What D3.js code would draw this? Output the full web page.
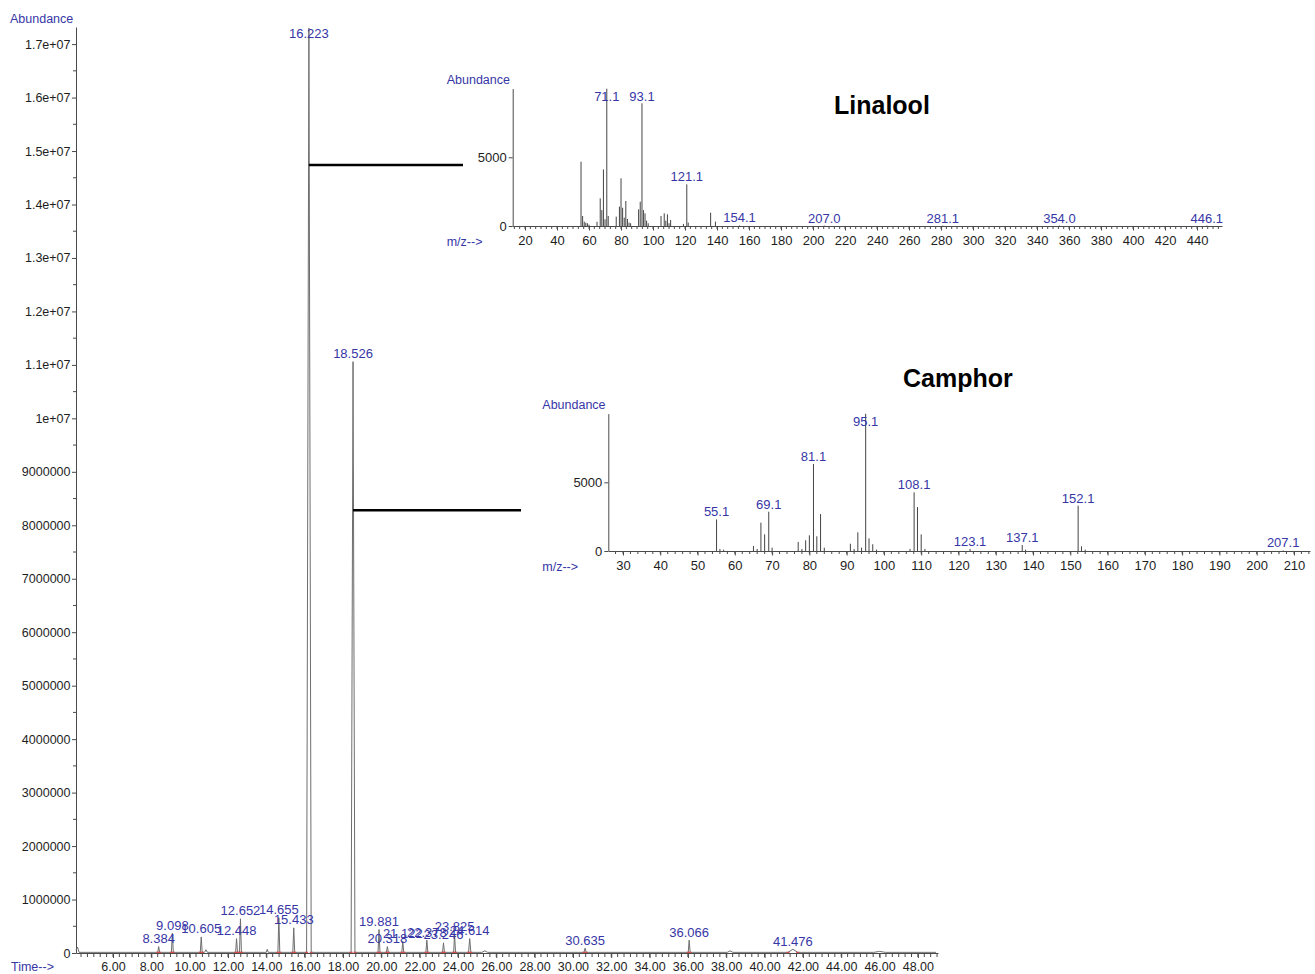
<!DOCTYPE html>
<html>
<head>
<meta charset="utf-8">
<script src="https://cdn.jsdelivr.net/npm/d3@7"></script>
<style>
  body { margin: 0; background: #fff; }
  text { font-family: "Liberation Sans", Arial, sans-serif; }
</style>
</head>
<body>
<script>
// ---- chromatogram (TIC) ----
var peakTimes   = [4.15, 8.384, 9.098, 10.605, 10.85, 12.448, 12.652, 14.05, 14.655, 15.433, 16.223, 18.526,
                   19.881, 20.318, 21.122, 22.378, 23.246, 23.825, 24.614, 25.4, 30.635, 36.066, 38.2, 41.476, 46.0];
var peakHeights = [110000, 120000, 370000, 300000, 60000, 270000, 640000, 70000, 660000, 470000, 17300000, 11060000,
                   440000, 120000, 220000, 240000, 190000, 340000, 270000, 40000, 90000, 240000, 40000, 70000, 30000];
var peakWidths  = [0.16, 0.1, 0.1, 0.1, 0.15, 0.1, 0.1, 0.1, 0.1, 0.1, 0.24, 0.2,
                   0.1, 0.1, 0.1, 0.1, 0.1, 0.1, 0.12, 0.3, 0.12, 0.1, 0.3, 0.5, 0.6];
var peakNames   = ["", "8.384", "9.098", "10.605", "", "12.448", "12.652", "", "14.655", "15.433", "16.223", "18.526",
                   "19.881", "20.318", "21.122", "22.378", "23.246", "23.825", "24.614", "", "30.635", "36.066", "", "41.476", ""];
var baseLevel = 12000;

var timeTicks = [6, 8, 10, 12, 14, 16, 18, 20, 22, 24, 26, 28, 30, 32, 34, 36, 38, 40, 42, 44, 46, 48];
var abundanceTicks = [0, 1e6, 2e6, 3e6, 4e6, 5e6, 6e6, 7e6, 8e6, 9e6, 1e7, 1.1e7, 1.2e7, 1.3e7, 1.4e7, 1.5e7, 1.6e7, 1.7e7];
var abundanceLabels = ["0", "1000000", "2000000", "3000000", "4000000", "5000000", "6000000", "7000000", "8000000",
                       "9000000", "1e+07", "1.1e+07", "1.2e+07", "1.3e+07", "1.4e+07", "1.5e+07", "1.6e+07", "1.7e+07"];

// connector lines from peaks to spectra (abundance level)
var connectorPeaks  = [16.223, 18.526];
var connectorLevels = [1.474e7, 8.28e6];

// ---- mass spectra ----
var linaloolMz = [55, 56, 57, 58, 59, 60, 65, 67, 68, 69, 70, 71.1, 72, 77, 79, 80, 81, 82, 83, 84, 85, 86,
                  91, 92, 93.1, 94, 95, 96, 97, 105, 107, 108, 109, 110, 111, 119, 121.1, 122, 136, 139,
                  154.1, 207.0, 281.1, 354.0, 446.1];
var linaloolAb = [4680, 730, 320, 240, 200, 100, 310, 2010, 1160, 4120, 490, 9990, 730, 680, 1410, 3470, 1330, 610, 1820, 510, 250, 200,
                  1210, 1770, 8930, 1160, 920, 390, 200, 730, 920, 390, 850, 200, 440, 150, 3030, 250, 970, 320,
                  40, 30, 30, 30, 30];
var linaloolLabels = ["71.1", "93.1", "121.1", "154.1", "207.0", "281.1", "354.0", "446.1"];
var linaloolTicks = [20, 40, 60, 80, 100, 120, 140, 160, 180, 200, 220, 240, 260, 280, 300, 320, 340, 360, 380, 400, 420, 440];

var camphorMz = [55.1, 56, 57, 65, 66, 67, 68, 69.1, 70, 77, 78, 79, 80, 81.1, 82, 83, 84, 91, 92, 93, 94,
                 95.1, 96, 97, 98, 107, 108.1, 109, 110, 111, 123.1, 137.1, 138, 152.1, 153, 154, 207.1];
var camphorAb = [2300, 150, 100, 360, 150, 2060, 1210, 2860, 240, 660, 150, 780, 1140, 6330, 1070, 2690, 240, 530, 150, 1360, 240,
                 9990, 920, 490, 100, 150, 4270, 3200, 1210, 150, 150, 440, 100, 3300, 340, 100, 40];
var camphorLabels = ["55.1", "69.1", "81.1", "95.1", "108.1", "123.1", "137.1", "152.1", "207.1"];
var camphorTicks = [30, 40, 50, 60, 70, 80, 90, 100, 110, 120, 130, 140, 150, 160, 170, 180, 190, 200, 210];

var labelBlue = "#3636a6";
var inkColor = "#1e1e1e";
var axisColor = "#4a4a4a";

var svg = d3.select("body").append("svg")
    .attr("width", 1315)
    .attr("height", 974);

//===================================
var x = d3.scaleLinear().domain([4.07, 49.05]).range([76, 938]);
var y = d3.scaleLinear().domain([0, 1.732e7]).range([953, 27]);

function styleAxis(g, size) {
  g.selectAll("path, line").attr("stroke", axisColor);
  g.selectAll("text")
    .attr("fill", inkColor)
    .style("font-size", size + "px")
    .style("font-family", "'Liberation Sans', Arial, sans-serif");
}

// minor ticks
var minorTime = d3.range(6 - 6 / 3, 49.05, 1 / 3).filter(function (t) { return t >= 4.07; });
svg.append("g").selectAll("line").data(minorTime).enter().append("line")
  .attr("x1", function (d) { return x(d); }).attr("x2", function (d) { return x(d); })
  .attr("y1", 953).attr("y2", 957)
  .attr("stroke", axisColor);
var minorAb = d3.range(5e5, 1.732e7, 1e6);
svg.append("g").selectAll("line").data(minorAb).enter().append("line")
  .attr("x1", 73).attr("x2", 76)
  .attr("y1", function (d) { return y(d); }).attr("y2", function (d) { return y(d); })
  .attr("stroke", axisColor);

var xAxis = svg.append("g")
  .attr("transform", "translate(0,953)")
  .call(d3.axisBottom(x).tickValues(timeTicks).tickFormat(d3.format(".2f")).tickSize(5).tickSizeOuter(0).tickPadding(4.5));
styleAxis(xAxis, 12.5);

var yAxis = svg.append("g")
  .attr("transform", "translate(76,0)")
  .call(d3.axisLeft(y).tickValues(abundanceTicks)
    .tickFormat(function (d, i) { return abundanceLabels[i]; })
    .tickSize(4).tickSizeOuter(0).tickPadding(1.5));
styleAxis(yAxis, 12.5);

svg.append("text").attr("x", 10).attr("y", 22.5).attr("fill", labelBlue)
  .style("font-size", "12.5px").text("Abundance");
svg.append("text").attr("x", 11).attr("y", 970.5).attr("fill", labelBlue)
  .style("font-size", "12.5px").text("Time-->");

// trace
var trace = [[4.07, 55000]];
peakTimes.forEach(function (t, i) {
  var a = Math.max(t - peakWidths[i] / 2, 4.07);
  if (a > 4.07) trace.push([a, baseLevel]);
  trace.push([t, peakHeights[i]], [t + peakWidths[i] / 2, baseLevel]);
});
trace.push([48.95, baseLevel]);

var line = d3.line()
  .x(function (d) { return x(d[0]); })
  .y(function (d) { return y(d[1]); });

svg.append("path")
  .attr("d", line(trace))
  .attr("fill", "none")
  .attr("stroke", "#6e6e6e")
  .attr("stroke-width", 1);

// integration markers
var marks = [];
peakTimes.forEach(function (t, i) {
  if (peakNames[i]) marks.push(t - peakWidths[i] / 2, t + peakWidths[i] / 2);
});
svg.append("g").selectAll("line").data(marks).enter().append("line")
  .attr("x1", function (d) { return x(d) - 1.5; }).attr("x2", function (d) { return x(d) + 1.5; })
  .attr("y1", y(baseLevel)).attr("y2", y(baseLevel))
  .attr("stroke", "#d24a4a").attr("stroke-width", 1.2);

// peak labels
svg.append("g").selectAll("text")
  .data(peakTimes.map(function (t, i) { return { t: t, h: peakHeights[i], name: peakNames[i] }; })
    .filter(function (d) { return d.name; }))
  .enter().append("text")
  .attr("x", function (d) { return x(d.t); })
  .attr("y", function (d) { return Math.max(y(d.h) - 3.5, 38); })
  .attr("text-anchor", "middle")
  .attr("fill", labelBlue)
  .style("font-size", "13px")
  .text(function (d) { return d.name; });

//===================================
function drawSpectrum(o) {
  var xs = d3.scaleLinear().domain(o.xDomain).range([o.left, o.right]);
  var ys = d3.scaleLinear().domain([0, 10000]).range([o.base, o.top]);
  var g = svg.append("g");

  var minor = d3.range(o.ticks[0] - o.minorStep * Math.floor((o.ticks[0] - o.xDomain[0]) / o.minorStep),
                       o.xDomain[1], o.minorStep);
  g.append("g").selectAll("line").data(minor).enter().append("line")
    .attr("x1", function (d) { return xs(d); }).attr("x2", function (d) { return xs(d); })
    .attr("y1", o.base).attr("y2", o.base + 3)
    .attr("stroke", axisColor);

  var ax = g.append("g")
    .attr("transform", "translate(0," + o.base + ")")
    .call(d3.axisBottom(xs).tickValues(o.ticks).tickFormat(d3.format("d")).tickSize(4.5).tickSizeOuter(0).tickPadding(5.5));
  styleAxis(ax, 13);

  var ay = g.append("g")
    .attr("transform", "translate(" + o.left + ",0)")
    .call(d3.axisLeft(ys).tickValues([0, 5000]).tickFormat(d3.format("d")).tickSize(4).tickSizeOuter(0).tickPadding(2));
  styleAxis(ay, 13);

  g.append("g").selectAll("line").data(o.mz).enter().append("line")
    .attr("x1", function (d) { return xs(d); }).attr("x2", function (d) { return xs(d); })
    .attr("y1", o.base)
    .attr("y2", function (d, i) { return ys(o.ab[i]); })
    .attr("stroke", "#444")
    .attr("stroke-width", 1);

  g.append("g").selectAll("text").data(o.labels).enter().append("text")
    .attr("x", function (d) { return xs(+d); })
    .attr("y", function (d) {
      var i = o.mz.indexOf(+d);
      return Math.max(ys(o.ab[i]) - 3, o.top + 12.5);
    })
    .attr("text-anchor", "middle")
    .attr("fill", labelBlue)
    .style("font-size", "13px")
    .text(function (d) { return d; });

  g.append("text").attr("x", o.left - 66).attr("y", o.top - 4.3).attr("fill", labelBlue)
    .style("font-size", "12.5px").text("Abundance");
  g.append("text").attr("x", o.left - 66).attr("y", o.base + 19.5).attr("fill", labelBlue)
    .style("font-size", "12.5px").text("m/z-->");

  g.append("text").attr("x", o.titleX).attr("y", o.titleY)
    .attr("fill", "#000")
    .style("font-size", "25px").style("font-weight", "bold")
    .text(o.title);
}

drawSpectrum({
  title: "Linalool", titleX: 834, titleY: 114,
  mz: linaloolMz, ab: linaloolAb, labels: linaloolLabels, ticks: linaloolTicks, minorStep: 20 / 6,
  xDomain: [12.3, 455.6], left: 512.7, right: 1222, base: 226, top: 88.6
});

drawSpectrum({
  title: "Camphor", titleX: 903, titleY: 387,
  mz: camphorMz, ab: camphorAb, labels: camphorLabels, ticks: camphorTicks, minorStep: 2,
  xDomain: [26.06, 214.3], left: 608.3, right: 1310, base: 551, top: 413.6
});

// connectors
var connectorEnds = [463, 521];
svg.append("g").selectAll("line").data(connectorPeaks).enter().append("line")
  .attr("x1", function (d) { return x(d); })
  .attr("x2", function (d, i) { return connectorEnds[i]; })
  .attr("y1", function (d, i) { return y(connectorLevels[i]); })
  .attr("y2", function (d, i) { return y(connectorLevels[i]); })
  .attr("stroke", "#000")
  .attr("stroke-width", 2.5);
</script>
</body>
</html>
